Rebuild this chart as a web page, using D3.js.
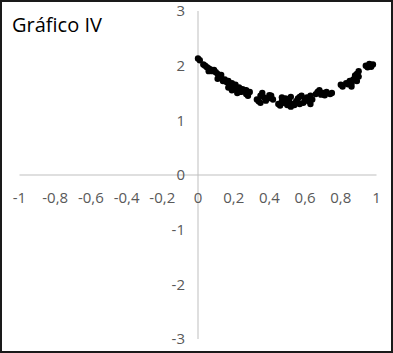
<!DOCTYPE html>
<html><head><meta charset="utf-8">
<script src="https://cdn.jsdelivr.net/npm/d3@7"></script>
<style>html,body{margin:0;padding:0;background:#fff;}svg{display:block;}</style>
</head><body>
<script>
const title = "Gráfico IV";
const xTicks = [-1,-0.8,-0.6,-0.4,-0.2,0,0.2,0.4,0.6,0.8,1];
const yTicks = [-3,-2,-1,0,1,2,3];
const xValues = [0.00,0.01,0.03,0.04,0.05,0.06,0.07,0.08,0.09,0.10,0.11,0.12,0.11,0.13,0.15,0.16,0.17,0.18,0.19,0.20,0.20,0.21,0.22,0.23,0.24,0.25,0.26,0.27,0.28,0.29,0.33,0.34,0.35,0.36,0.37,0.38,0.39,0.41,0.42,0.45,0.46,0.47,0.48,0.49,0.50,0.51,0.52,0.53,0.54,0.55,0.56,0.57,0.58,0.59,0.60,0.61,0.62,0.63,0.64,0.66,0.67,0.68,0.70,0.71,0.72,0.74,0.75,0.80,0.81,0.83,0.84,0.85,0.86,0.87,0.88,0.89,0.90,0.89,0.88,0.94,0.95,0.96,0.97,0.98,
  0.14,0.17,0.19,0.22,0.35,0.40,0.47,0.52,0.57,0.63,0.69,0.86,0.90,0.06,0.27];
const yValues = [2.13,2.10,2.02,2.00,1.97,1.95,1.93,1.90,1.92,1.88,1.85,1.80,1.76,1.83,1.75,1.70,1.72,1.65,1.68,1.62,1.58,1.65,1.55,1.60,1.52,1.57,1.55,1.48,1.45,1.52,1.38,1.35,1.45,1.50,1.42,1.36,1.40,1.45,1.38,1.30,1.27,1.35,1.32,1.40,1.28,1.36,1.43,1.30,1.28,1.35,1.40,1.30,1.45,1.32,1.38,1.42,1.35,1.45,1.38,1.48,1.52,1.55,1.50,1.46,1.52,1.48,1.50,1.65,1.62,1.68,1.66,1.72,1.62,1.75,1.78,1.85,1.90,1.72,1.82,2.00,1.97,2.03,1.98,2.02,
  1.72,1.60,1.55,1.50,1.32,1.46,1.42,1.25,1.43,1.30,1.47,1.68,1.80,1.90,1.55];

const W = 393, H = 353;
const svg = d3.select("body").append("svg").attr("width", W).attr("height", H);
svg.append("rect").attr("x",1).attr("y",1).attr("width",W-2).attr("height",H-2)
  .attr("fill","#fff").attr("stroke","#1a1a1a").attr("stroke-width",2);

const x = d3.scaleLinear().domain([-1,1]).range([19.5,376.5]);
const y = d3.scaleLinear().domain([-3,3]).range([339,11]);

svg.append("line").attr("x1",x(-1)).attr("x2",x(1)).attr("y1",y(0)).attr("y2",y(0))
  .attr("stroke","#bfbfbf").attr("stroke-width",1);
svg.append("line").attr("x1",x(0)).attr("x2",x(0)).attr("y1",y(3)).attr("y2",y(-3))
  .attr("stroke","#bfbfbf").attr("stroke-width",1);

const fmt = v => String(+v.toFixed(1)).replace(".", ",");
const font = "Open Sans, sans-serif";

svg.append("g").selectAll("text").data(xTicks).join("text")
  .attr("x", d => x(d)).attr("y", y(0) + 28)
  .attr("text-anchor","middle").attr("font-family",font).attr("font-size",15)
  .attr("fill","#595959").text(fmt);

svg.append("g").selectAll("text").data(yTicks).join("text")
  .attr("x", x(0) - 13).attr("y", d => y(d)).attr("dy","0.35em")
  .attr("text-anchor","end").attr("font-family",font).attr("font-size",15)
  .attr("fill","#595959").text(d => String(d));

const pts = xValues.map((v,i)=>({x:v,y:yValues[i]}));
svg.append("g").selectAll("circle").data(pts).join("circle")
  .attr("cx", d => x(d.x)).attr("cy", d => y(d.y)).attr("r", 3.2)
  .attr("fill","#000");

svg.append("text").attr("x",12).attr("y",32).attr("font-family",font)
  .attr("font-size",20).attr("fill","#000").text(title);
</script>
</body></html>
